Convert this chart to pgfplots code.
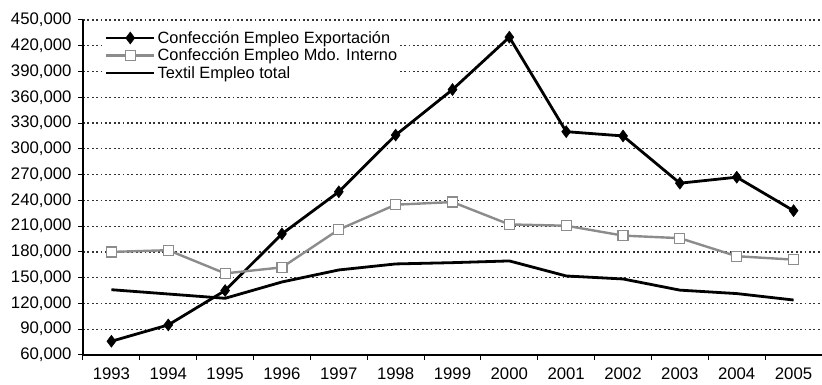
\documentclass[border=0pt]{standalone}
\usepackage{pgfplots}
\pgfplotsset{compat=1.18}
\usepackage{fontspec}
\setmainfont{Liberation Sans}
\definecolor{gline}{HTML}{8C8C8C}
\begin{document}
\begin{tikzpicture}
\begin{axis}[
  scale only axis,
  width=739bp, height=335bp,
  xmin=1992.5, xmax=2005.5,
  ymin=60000, ymax=450000,
  ytick={60000,90000,...,450000},
  xtick={1992.5,1993.5,...,2005.5},
  xticklabels={},
  extra x ticks={1993,...,2005},
  extra x tick labels={1993,1994,1995,1996,1997,1998,1999,2000,2001,2002,2003,2004,2005},
  extra x tick style={major tick length=0pt, grid=none, xticklabel style={yshift=-9bp}},
  major tick length=5bp,
  tick align=outside,
  axis x line*=bottom,
  axis y line*=left,
  axis line style={line width=1.2bp, black},
  tick style={line width=1bp, black},
  ymajorgrids=true,
  xmajorgrids=false,
  y grid style={black!80, line width=1.2bp, dash pattern=on 1.8bp off 2.6bp},
  scaled y ticks=false,
  /pgf/number format/assume math mode=true,
  yticklabel style={/pgf/number format/fixed, /pgf/number format/1000 sep={,}},
  font=\fontsize{17}{19}\selectfont,
  tick label style={font=\fontsize{16.8}{19}\selectfont},
  yticklabel style={xshift=-3bp},
  legend style={at={(0.028,0.976)}, anchor=north west, draw=none, fill=white,
    font=\fontsize{16.4}{17}\selectfont, inner sep=1bp, row sep=0bp,
    legend cell align=left},
  legend image code/.code={\draw[mark repeat=2,mark phase=2] plot coordinates {(0bp,0bp) (24bp,0bp) (48bp,0bp)};},
]
\addplot[black, line width=2.8bp, mark=diamond*, mark size=6bp, mark options={solid, fill=black, line width=0.5bp}] coordinates {
 (1993,76000) (1994,95000) (1995,135000) (1996,201000) (1997,250000) (1998,316000)
 (1999,369000) (2000,430000) (2001,320000) (2002,315000) (2003,260000) (2004,267000) (2005,228000)};
\addlegendentry{Confección Empleo Exportación}
\addplot[gline, line width=2.4bp, mark=square*, mark size=5bp, mark options={solid, fill=white, draw=gline, line width=1.2bp}] coordinates {
 (1993,180000) (1994,182000) (1995,155000) (1996,162000) (1997,206000) (1998,235000)
 (1999,238000) (2000,212000) (2001,210500) (2002,199000) (2003,196000) (2004,175000) (2005,171000)};
\addlegendentry{Confección Empleo Mdo. Interno}
\addplot[black, line width=2.8bp, no markers] coordinates {
 (1993,136000) (1994,131000) (1995,126000) (1996,145000) (1997,159000) (1998,166000)
 (1999,167500) (2000,169500) (2001,152000) (2002,148500) (2003,135500) (2004,131500) (2005,124000)};
\addlegendentry{Textil Empleo total}
\end{axis}
\pgfresetboundingbox
\path[use as bounding box] ([xshift=-83bp,yshift=-30bp]current axis.south west) rectangle ([yshift=20bp]current axis.north east);
\end{tikzpicture}
\end{document}
